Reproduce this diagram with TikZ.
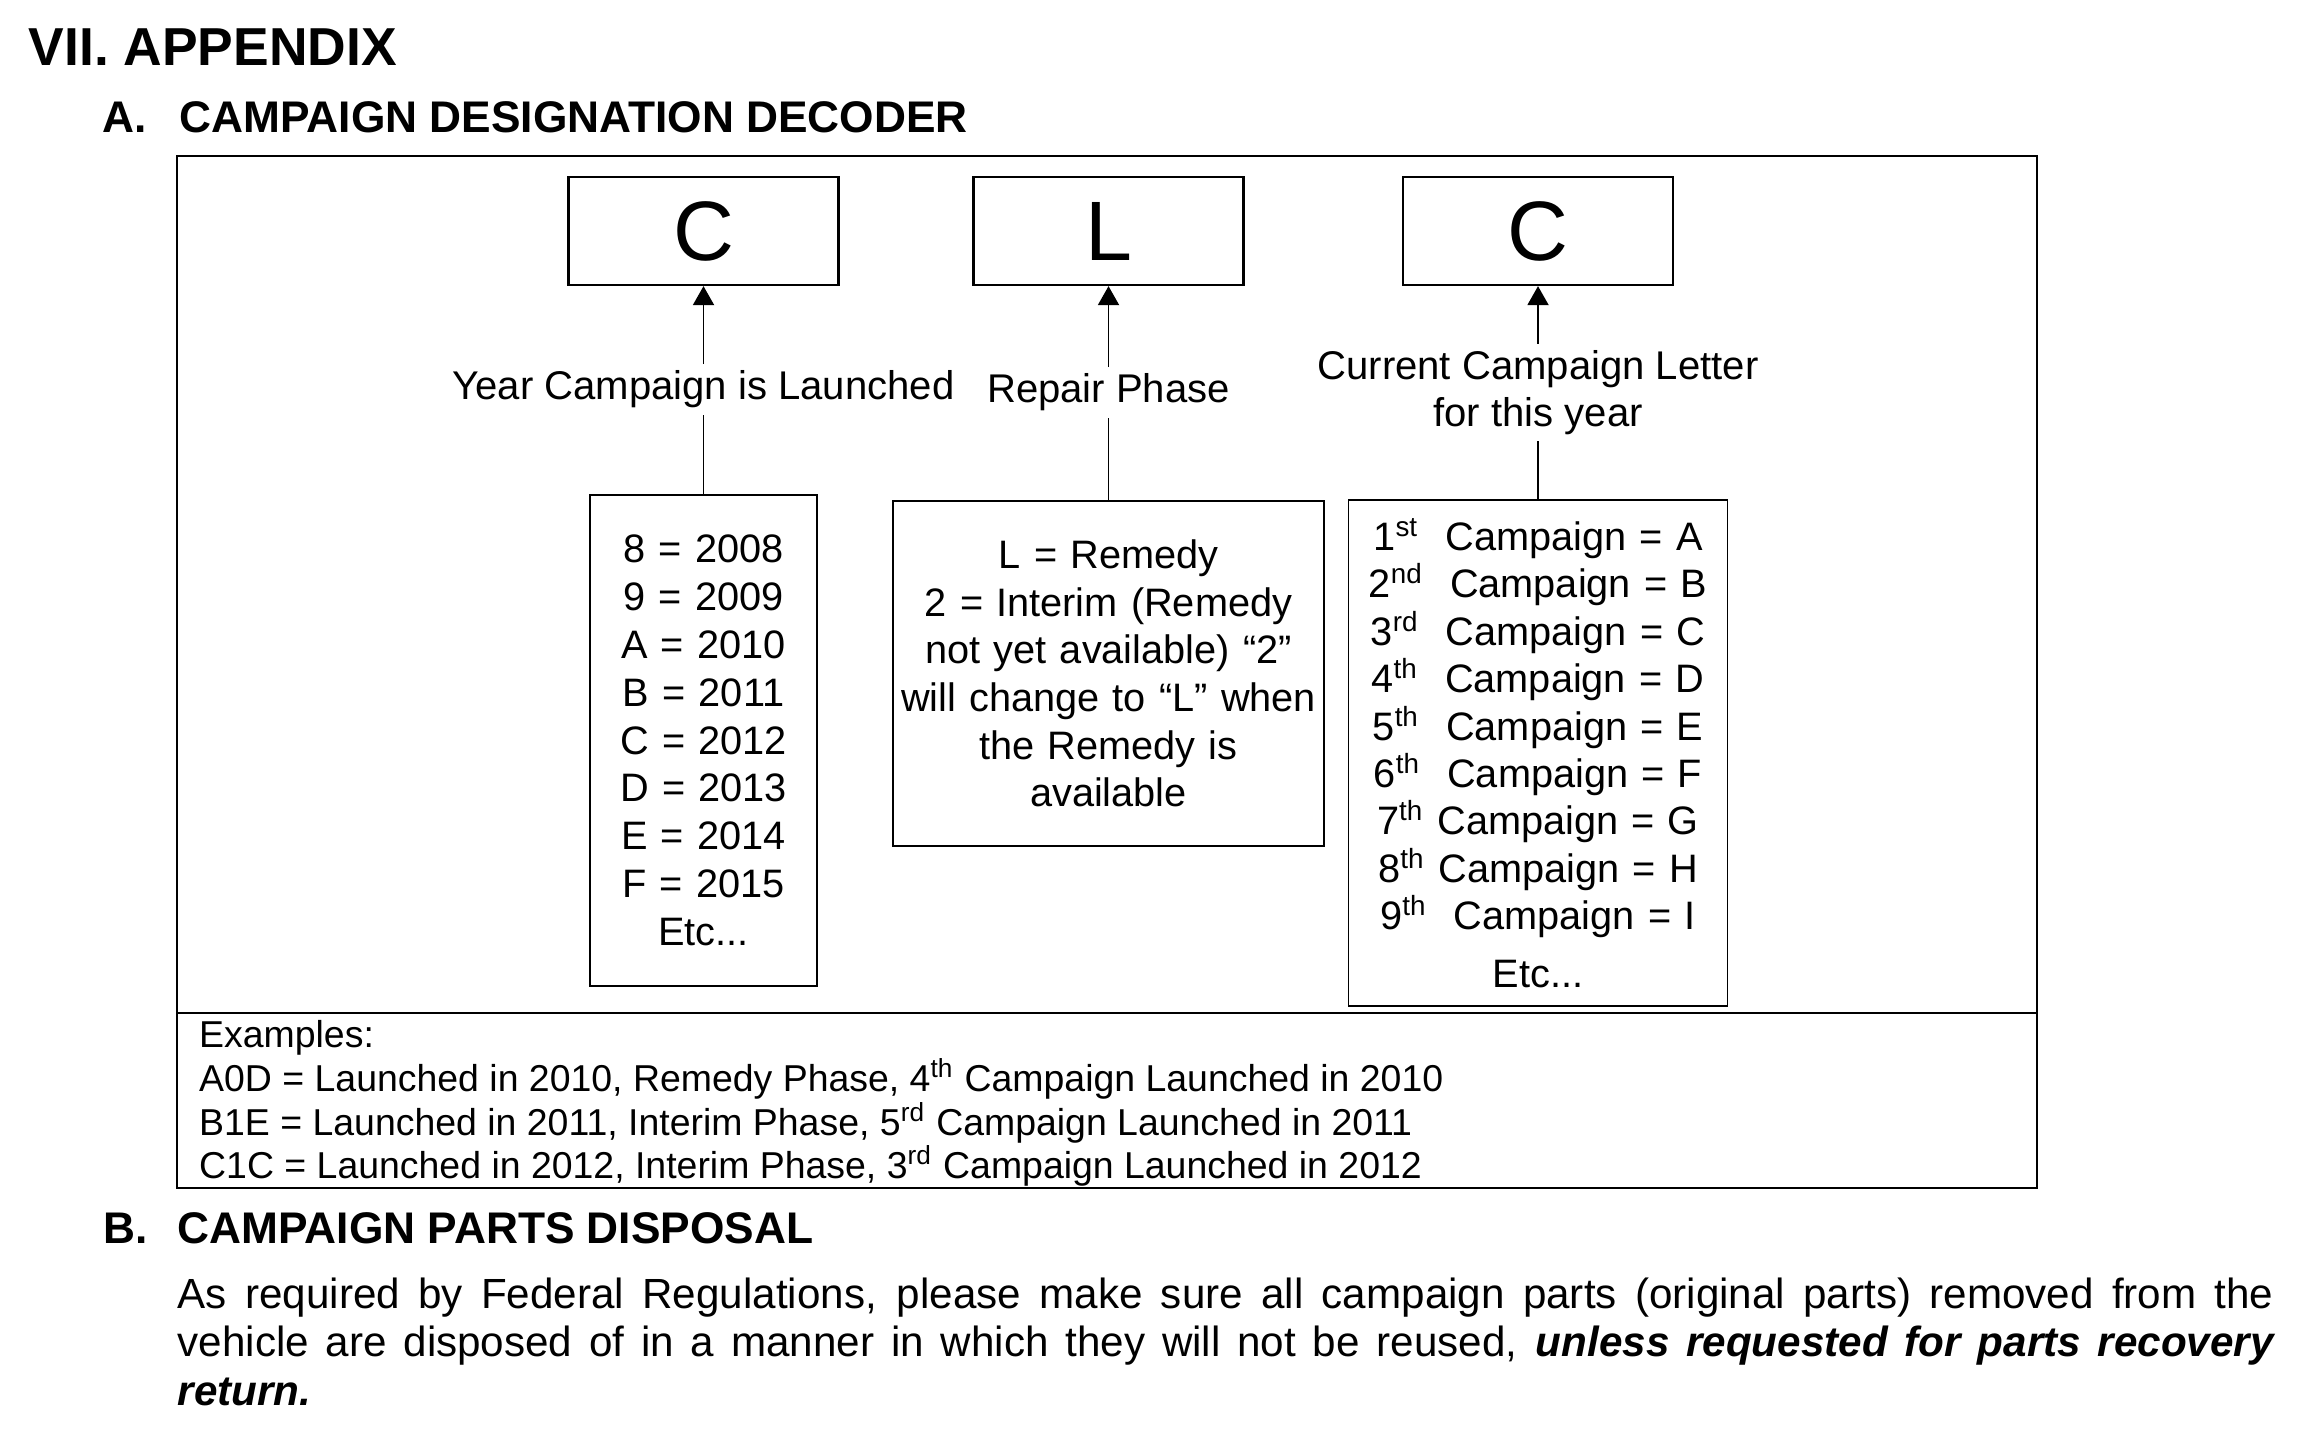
\documentclass[tikz,border=0pt]{standalone}
\usepackage{fontspec}
\setmainfont{Liberation Sans}
\usepackage{tikz}
\usetikzlibrary{arrows.meta}

\begin{document}
\begin{tikzpicture}[x=1mm, y=-1mm,
    letterbox/.style={draw, line width=0.65pt, minimum width=27mm, minimum height=10.8mm, inner sep=0pt, font=\fontsize{24}{28}\selectfont},
    listbox/.style={draw, line width=0.55pt, align=center, inner sep=0pt},
    tag/.style={align=center, inner sep=0.6mm, font=\fontsize{11.4}{13.3}\selectfont},
    link/.style={line width=0.55pt},
    pointer/.style={line width=0.55pt, -{Triangle[length=1.9mm, width=2.1mm]}},
    heading/.style={anchor=base west, inner sep=0pt, font=\bfseries\fontsize{12.6}{14}\selectfont}]

    \path[use as bounding box, fill=white] (0,0) rectangle (231.4,143.5);

    % Title
    \node[heading, font=\bfseries\fontsize{15.2}{18}\selectfont] (appendix) at (2.8,6.5) {VII. APPENDIX};
    \node[heading] (secA) at (10.2,13.2) {A.};
    \node[heading] (secAtitle) at (17.9,13.2) {CAMPAIGN DESIGNATION DECODER};

    % Decoder frame
    \draw[line width=0.8pt] (17.7,15.6) rectangle (203.7,118.8);
    \draw[line width=0.8pt] (17.7,101.3) -- (203.7,101.3);

    % Letter boxes
    \node[letterbox] (yearLetter) at (70.35,23.1) {C};
    \node[letterbox] (phaseLetter) at (110.85,23.1) {L};
    \node[letterbox] (seqLetter) at (153.8,23.1) {C};

    % Labels
    \node[tag] (yearTag) at (70.35,38.95) {Year Campaign is Launched};
    \node[tag] (phaseTag) at (110.85,39.25) {Repair Phase};
    \node[tag] (seqTag) at (153.8,39.25) {Current Campaign Letter\\for this year};

    % Lists
    \node[listbox, minimum width=22.7mm, minimum height=49.1mm, text width=21mm,
          font=\fontsize{11.3}{13.6}\selectfont] (yearList) at (70.35,74.05)
        {8 = 2008\\9 = 2009\\A = 2010\\B = 2011\\C = 2012\\D = 2013\\E = 2014\\F = 2015\\Etc...};
    \node[listbox, minimum width=43.1mm, minimum height=34.5mm, text width=42mm,
          font=\fontsize{11.3}{13.55}\selectfont] (phaseList) at (110.85,67.35)
        {L = Remedy\\2 = Interim (Remedy\\not yet available) “2”\\will change to “L” when\\the Remedy is\\available};
    \node[listbox, minimum width=37.9mm, minimum height=50.6mm, text width=36mm,
          font=\fontsize{11.3}{13.5}\selectfont] (seqList) at (153.8,75.3)
        {1\textsuperscript{st}\ \ Campaign = A\\2\textsuperscript{nd}\ \ Campaign = B\\3\textsuperscript{rd}\ \ Campaign = C\\
         4\textsuperscript{th}\ \ Campaign = D\\5\textsuperscript{th}\ \ Campaign = E\\6\textsuperscript{th}\ \ Campaign = F\\
         7\textsuperscript{th} Campaign = G\\8\textsuperscript{th} Campaign = H\\9\textsuperscript{th}\ \ Campaign = I\\[1mm]Etc...};

    % Connectors
    \draw[link] (yearList) -- (yearTag);
    \draw[pointer] (yearTag) -- (yearLetter);
    \draw[link] (phaseList) -- (phaseTag);
    \draw[pointer] (phaseTag) -- (phaseLetter);
    \draw[link] (seqList) -- (seqTag);
    \draw[pointer] (seqTag) -- (seqLetter);

    % Examples
    \node[anchor=north west, inner sep=0pt, align=left, font=\fontsize{10.65}{12.4}\selectfont] (examples) at (19.85,102.0)
        {Examples:\\
         A0D = Launched in 2010, Remedy Phase, 4\textsuperscript{th} Campaign Launched in 2010\\
         B1E = Launched in 2011, Interim Phase, 5\textsuperscript{rd} Campaign Launched in 2011\\
         C1C = Launched in 2012, Interim Phase, 3\textsuperscript{rd} Campaign Launched in 2012};

    % Parts disposal
    \node[heading] (secB) at (10.3,124.3) {B.};
    \node[heading] (secBtitle) at (17.7,124.3) {CAMPAIGN PARTS DISPOSAL};
    \node[anchor=north west, inner sep=0pt, text width=209.6mm, align=justify,
          font=\fontsize{12}{13.8}\selectfont] (disposal) at (17.7,127.7)
        {As required by Federal Regulations, please make sure all campaign parts (original parts) removed from the\linebreak
         vehicle are disposed of in a manner in which they will not be reused, \textbf{\textit{unless requested for parts recovery\linebreak
         return.}}};
\end{tikzpicture}
\end{document}
